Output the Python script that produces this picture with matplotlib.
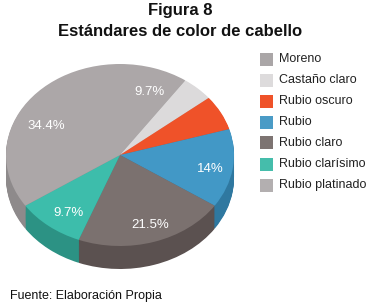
import numpy as np
import matplotlib
matplotlib.use("Agg")
import matplotlib.pyplot as plt
from matplotlib.patches import Rectangle

plt.rcParams['font.family'] = ['Liberation Sans', 'DejaVu Sans']

# ---- data ----
categories = ["Moreno", "Castaño claro", "Rubio oscuro", "Rubio",
              "Rubio claro", "Rubio clarísimo", "Rubio platinado"]
values = [9.7, 4.5, 6.2, 14.0, 21.5, 9.7, 34.4]
pct_labels = ["9.7%", "", "", "14%", "21.5%", "9.7%", "34.4%"]
title_line1 = "Figura 8"
title_line2 = "Estándares de color de cabello"
source_text = "Fuente: Elaboración Propia"

top_colors = ["#aca7a8", "#dcdadb", "#ef5229", "#4298c6",
              "#7b716f", "#3dbdab", "#aca7a8"]
side_colors = ["#8e8a8b", "#b9b7b8", "#c2401f", "#2f78a0",
               "#5b5150", "#2c9284", "#8e8a8b"]
legend_colors = ["#aaa6a7", "#dddbdc", "#ef5229", "#4a9bc6",
                 "#7d7472", "#45bdab", "#b3afb0"]

W, H = 371, 303
fig = plt.figure(figsize=(W / 100, H / 100), dpi=100)
fig.patch.set_facecolor("white")

# ---- pie geometry (pixels) ----
cx, cy = 120, 155
rx, ry = 114, 91
depth_px = 23
pad = 3
left_px = cx - rx - pad
right_px = cx + rx + pad
top_px = cy - ry - pad
bot_px = cy + ry + depth_px + pad
ax = fig.add_axes([left_px / W, 1 - bot_px / H,
                   (right_px - left_px) / W, (bot_px - top_px) / H])
depth = depth_px / ry

# side layers
n_layers = 24
for i in range(n_layers, 0, -1):
    off = depth * i / n_layers
    ax.pie(values, colors=side_colors, startangle=90, counterclock=False,
           radius=1.0, center=(0, -off),
           wedgeprops=dict(linewidth=0, antialiased=True))
# top face
ax.pie(values, colors=top_colors, startangle=90, counterclock=False,
       radius=1.0, center=(0, 0), wedgeprops=dict(linewidth=0))

ax.set_aspect('auto')
ax.set_xlim(-1 - pad / rx, 1 + pad / rx)
ax.set_ylim(-1 - depth - pad / ry, 1 + pad / ry)
ax.axis('off')

# percentage labels
total = sum(values)
cum = np.cumsum(values)
for v, c, lab in zip(values, cum, pct_labels):
    if not lab:
        continue
    mid = 90 - 360 * (c - v / 2) / total
    r = 0.77
    x = r * np.cos(np.radians(mid)) + 0.03
    y = r * np.sin(np.radians(mid)) - 0.04
    ax.text(x, y, lab, ha='center', va='center', color='white',
            fontsize=9.5)

# titles
fig.text(180 / W, 1 - 11 / H, title_line1, ha='center', va='center',
         fontsize=12, fontweight='bold', color='#111111')
fig.text(180 / W, 1 - 32 / H, title_line2, ha='center', va='center',
         fontsize=12, fontweight='bold', color='#111111')

# legend (manual)
for i, (name, col) in enumerate(zip(categories, legend_colors)):
    yc = 59 + i * 21
    fig.add_artist(Rectangle((260 / W, 1 - (yc + 6.5) / H), 13 / W, 13 / H,
                             transform=fig.transFigure, facecolor=col,
                             edgecolor='none'))
    fig.text(279 / W, 1 - yc / H, name, ha='left', va='center',
             fontsize=9, color='#222222')

# source
fig.text(10 / W, 1 - 296 / H, source_text, ha='left', va='center',
         fontsize=9, color='#111111')

fig.savefig("out.png", dpi=100, facecolor="white")
